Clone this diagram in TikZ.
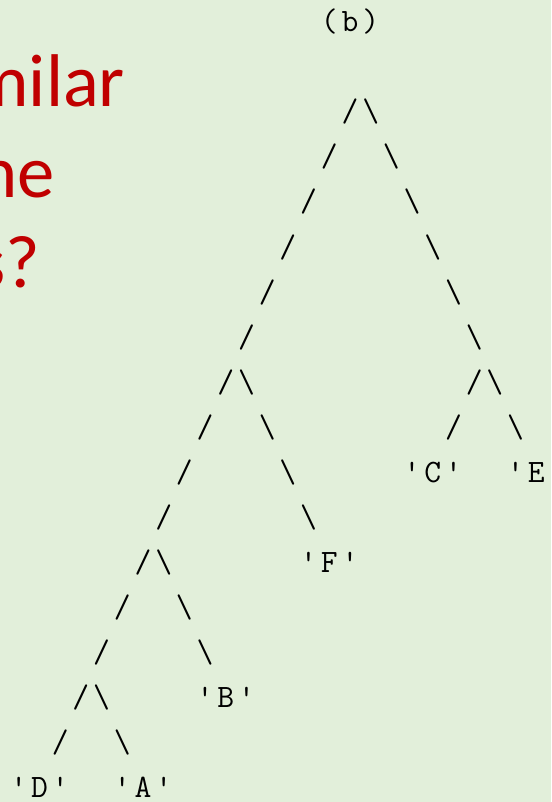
\documentclass[tikz,border=0pt]{standalone}
\usepackage{fontspec}
\newfontfamily\slidefont{Carlito}
\usepackage{tikz}
\usetikzlibrary{positioning}
\definecolor{sfondo}{HTML}{E2EFDA}
\definecolor{rosso}{HTML}{C00000}
\newlength\cw
\setlength\cw{15.525pt}
\newcommand\cella[1]{\makebox[\cw]{#1}}
\newcommand\quoted[1]{\cella{\textquotesingle}\cella{#1}\cella{\textquotesingle}}

\begin{document}
\begin{tikzpicture}[x=0.75pt, y=-0.75pt,
  glifo/.style={inner sep=0pt, outer sep=0pt, anchor=base, font=\ttfamily\fontsize{24.5}{24.5}\selectfont},
  domanda/.style={inner sep=0pt, outer sep=0pt, anchor=base east, text=rosso, font=\slidefont\fontsize{56}{56}\selectfont}]
% Sfondo della slide
\useasboundingbox (0,0) rectangle (551,802);
\fill[sfondo] (0,0) rectangle (551,802);

% Testo rosso tagliato a sinistra
\node[domanda] (q1) at (125,107) {milar};
\node[domanda] (q2) at (55,198) {ne};
\node[domanda] (q3) at (40,287) {s?};

% Titolo dell'albero
\node[glifo] (tb) at ({18.8+20.7*16}, 32) {\cella{(}\cella{b}\cella{)}};

% Rami verso sinistra
\foreach \r/\c in {2/16, 3/15, 4/14, 5/13, 6/12, 7/11, 8/10, 8/22, 9/9, 9/21,
                   10/8, 11/7, 12/6, 13/5, 14/4, 15/3, 16/2}{
  \node[glifo] (sx-\r-\c) at ({18.8+20.7*\c}, {32+45*\r}) {/};
}

% Rami verso destra
\foreach \r/\c in {2/17, 3/18, 4/19, 5/20, 6/21, 7/22, 8/11, 8/23, 9/12, 9/24,
                   10/13, 11/14, 12/7, 13/8, 14/9, 15/4, 16/5}{
  \node[glifo] (dx-\r-\c) at ({18.8+20.7*\c}, {32+45*\r}) {\textbackslash};
}

% Foglie
\foreach \lab/\r/\c in {C/10/20, E/10/25, F/12/15, B/15/10, D/17/1, A/17/6}{
  \node[glifo] (l\lab) at ({18.8+20.7*\c}, {32+45*\r}) {\quoted{\lab}};
}

\end{tikzpicture}
\end{document}
